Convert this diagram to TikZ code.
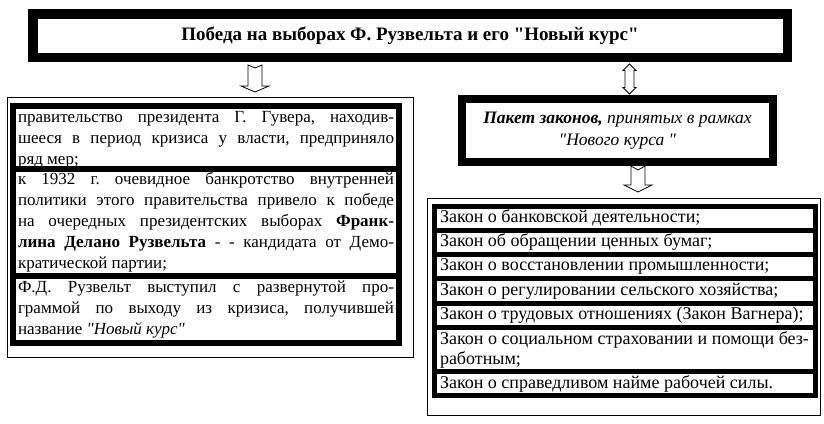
\documentclass[tikz,border=0pt]{standalone}
\usepackage{fontspec}
\setmainfont{Liberation Serif}[Ligatures=TeXOff]
\usetikzlibrary{positioning}
\tolerance=9999
\frenchspacing

\tikzset{
  headbox/.style={draw, line width=9.5pt, outer sep=0pt, inner sep=0pt},
  row/.style={draw, line width=6pt, outer sep=0pt, align=justify, text width=376pt,
    inner xsep=5pt, inner ysep=0.5pt, font=\fontsize{17}{21}\selectfont},
  law/.style={draw, line width=5pt, outer sep=0pt, align=justify, text width=369pt,
    inner xsep=6pt, inner ysep=0pt, minimum height=24.3pt, font=\fontsize{18}{20}\selectfont},
  frame/.style={draw, line width=0.8pt, anchor=north west, inner sep=0pt},
  blockarrow/.style={draw, fill=white, line width=0.8pt, line join=miter}
}

\begin{document}
\begin{tikzpicture}[x=1pt, y=-1pt]
  \useasboundingbox[fill=white] (0,0) rectangle (824,423);

  % title
  \node[headbox, minimum width=754.5, minimum height=43.5,
        font=\fontsize{19}{21}\selectfont\bfseries] (title) at (410,35.5)
        {Победа на выборах Ф. Рузвельта и его "Новый курс"};

  % left column
  \node[frame, minimum width=406, minimum height=260] (leftframe) at (7,97) {};
  \node[row, anchor=north west, minimum height=63] (l1) at (13,106)
    {\rule{0pt}{16pt}правительство президента Г. Гувера, находив-\linebreak шееся в период кризиса у власти, предприняло\linebreak ряд мер;};
  \node[row, minimum height=107, below=0pt of l1] (l2)
    {к 1932 г. очевидное банкротство внутренней\linebreak политики этого правительства привело к победе\linebreak на очередных президентских выборах \textbf{Франк-\linebreak лина Делано Рузвельта} - - кандидата от Демо-\linebreak кратической партии;};
  \node[row, minimum height=67, below=0pt of l2] (l3)
    {Ф.Д. Рузвельт выступил с развернутой про-\linebreak граммой по выходу из кризиса, получившей\linebreak название \textit{"Новый курс"}};

  % right column
  \node[draw, line width=8pt, outer sep=0pt, minimum width=311, minimum height=63,
        align=center, font=\fontsize{17.5}{22}\selectfont\itshape] (pack) at (617.5,130.5)
        {\textbf{Пакет законов,} принятых в рамках\\"Нового курса "};
  \node[frame, minimum width=393, minimum height=217] (rightframe) at (427,198) {};
  \node[law, anchor=north west] (z1) at (434,206) {Закон о банковской деятельности;};
  \node[law, below=0pt of z1] (z2) {Закон об обращении ценных бумаг;};
  \node[law, below=0pt of z2] (z3) {Закон о восстановлении промышленности;};
  \node[law, below=0pt of z3] (z4) {Закон о регулировании сельского хозяйства;};
  \node[law, below=0pt of z4] (z5) {Закон о трудовых отношениях (Закон Вагнера);};
  \node[law, below=0pt of z5, minimum height=44] (z6)
    {Закон о социальном страховании и помощи без-\linebreak работным;};
  \node[law, below=0pt of z6] (z7) {Закон о справедливом найме рабочей силы.};

  % arrows
  \draw[blockarrow] (248,65) -- (255,68) -- (262,65) -- (262,86) -- (269,86)
    -- (255,92) -- (241,86) -- (248,86) -- cycle;
  \draw[blockarrow] (629.5,64) -- (636,70.5) -- (634,70.5) -- (634,87.5) -- (636,87.5)
    -- (629.5,94) -- (623,87.5) -- (625,87.5) -- (625,70.5) -- (623,70.5) -- cycle;
  \draw[blockarrow] (631,166) -- (638,170) -- (645,166) -- (645,185) -- (652,185)
    -- (638,192) -- (624,185) -- (631,185) -- cycle;
\end{tikzpicture}
\end{document}
